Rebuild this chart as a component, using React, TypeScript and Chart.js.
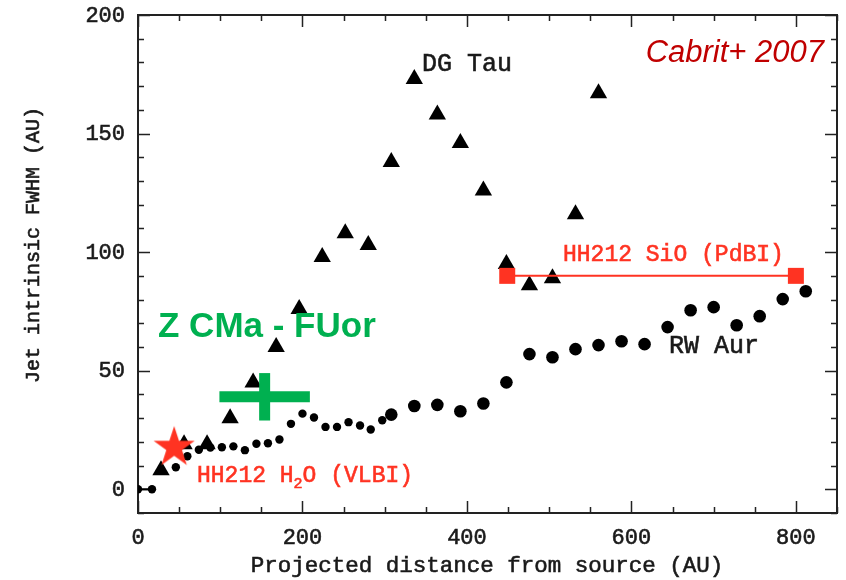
import { useEffect, useRef } from 'react';
import { Chart, registerables } from 'chart.js';

Chart.register(...registerables);

// ---- data ----
const X_TICKS = [0, 200, 400, 600, 800];
const Y_TICKS = [0, 50, 100, 150, 200];
const X_MIN = 0;
const X_MAX = 850;
const Y_MIN = -10;
const Y_MAX = 200;
const X_MINOR = 50;
const Y_MINOR = 10;

// DG Tau (triangles)
const DG_TAU_X = [28, 56, 84, 112, 140, 168, 196, 224, 252, 280, 308, 336, 364, 392, 420, 448, 476, 504, 532, 560];
const DG_TAU_Y = [8, 19, 19, 30, 45, 60, 76, 98, 108, 103, 138, 173, 158, 146, 126, 95, 86, 89, 116, 167];

// RW Aur (dots): innermost pair joined by a line, small dots, large dots
const RW_BASE_X = [0, 17];
const RW_BASE_Y = [0, 0];
const RW_SMALL_X = [46, 60, 74, 88, 102, 116, 130, 144, 158, 172, 186, 200, 214, 228, 242, 256, 270, 283, 297];
const RW_SMALL_Y = [9.3, 13.9, 16.7, 17.6, 17.7, 18.1, 16.5, 19.2, 19.4, 21, 27.6, 31.9, 30.3, 26.3, 26.3, 28.3, 26.9, 25.2, 29.1];
const RW_LARGE_X = [308, 336, 364, 392, 420, 448, 476, 504, 532, 560, 588, 616, 644, 672, 700, 728, 756, 784, 812];
const RW_LARGE_Y = [31.5, 35.1, 35.6, 32.9, 36.2, 45.1, 57, 55.7, 59.1, 60.8, 62.4, 61.2, 68.4, 75.5, 76.8, 69.2, 73, 80.2, 83.5];

// HH212 SiO (PdBI)
const SIO_X = [449, 800];
const SIO_Y = [90, 90];

// HH212 H2O (VLBI)
const H2O_X = [44];
const H2O_Y = [17.6];

// Z CMa - FUor (cross: centre and half-widths)
const ZCMA_X = 154;
const ZCMA_Y = 39;
const ZCMA_XERR = 55;
const ZCMA_YERR = 10;

const RED = '#ff3322';
const GREEN = '#00b050';
const INK = '#1a1a1a';
const MONO = '"Liberation Mono", "DejaVu Sans Mono", monospace';

const pts = (xs: number[], ys: number[]) => xs.map((x, i) => ({ x, y: ys[i] }));

function makeStar(R: number, color: string): HTMLCanvasElement {
  const c = document.createElement('canvas');
  const s = Math.ceil(R * 2 + 2);
  c.width = s;
  c.height = s;
  const g = c.getContext('2d')!;
  const cx = s / 2;
  const cy = s / 2;
  const r = R * 0.382;
  g.beginPath();
  for (let i = 0; i < 10; i++) {
    const rad = i % 2 === 0 ? R : r;
    const a = -Math.PI / 2 + (i * Math.PI) / 5;
    const px = cx + rad * Math.cos(a);
    const py = cy + rad * Math.sin(a);
    if (i === 0) g.moveTo(px, py);
    else g.lineTo(px, py);
  }
  g.closePath();
  g.fillStyle = color;
  g.fill();
  return c;
}

// fill text with a hairline stroke to mimic the heavier plot font
function heavyText(ctx: CanvasRenderingContext2D, text: string, x: number, y: number) {
  ctx.fillText(text, x, y);
  ctx.strokeStyle = ctx.fillStyle as string;
  ctx.lineWidth = 0.6;
  ctx.strokeText(text, x, y);
}

const framePlugin = {
  id: 'frame',
  beforeDatasetsDraw(chart: any) {
    const { ctx, chartArea: a, scales } = chart;
    const xs = scales.x;
    const ys = scales.y;
    ctx.save();
    ctx.strokeStyle = '#222';
    ctx.lineWidth = 1.5;
    ctx.beginPath();
    for (let v = X_MIN; v <= X_MAX; v += X_MINOR) {
      const px = Math.round(xs.getPixelForValue(v)) + 0.5;
      const len = v % 200 === 0 ? 12 : 6;
      ctx.moveTo(px, a.bottom);
      ctx.lineTo(px, a.bottom - len);
      ctx.moveTo(px, a.top);
      ctx.lineTo(px, a.top + len);
    }
    for (let v = Y_MIN; v <= Y_MAX; v += Y_MINOR) {
      const py = Math.round(ys.getPixelForValue(v)) + 0.5;
      const len = v % 50 === 0 ? 12 : 6;
      ctx.moveTo(a.left, py);
      ctx.lineTo(a.left + len, py);
      ctx.moveTo(a.right, py);
      ctx.lineTo(a.right - len, py);
    }
    ctx.stroke();
    ctx.lineWidth = 2;
    ctx.strokeRect(a.left, a.top, a.right - a.left, a.bottom - a.top);

    // tick labels from the scales
    ctx.fillStyle = INK;
    ctx.font = `22px ${MONO}`;
    ctx.textBaseline = 'alphabetic';
    ctx.textAlign = 'center';
    for (const v of X_TICKS) {
      heavyText(ctx, String(v), xs.getPixelForValue(v), a.bottom + 30.5);
    }
    ctx.textAlign = 'right';
    for (const v of Y_TICKS) {
      heavyText(ctx, String(v), a.left - 13, ys.getPixelForValue(v) + 6.5);
    }
    ctx.restore();
  },
  afterDraw(chart: any) {
    const { ctx } = chart;
    ctx.save();
    ctx.textBaseline = 'alphabetic';

    // axis titles
    ctx.fillStyle = INK;
    ctx.font = `22.5px ${MONO}`;
    ctx.textAlign = 'center';
    heavyText(ctx, 'Projected distance from source (AU)', 487, 572);
    ctx.save();
    ctx.translate(39, 245);
    ctx.rotate(-Math.PI / 2);
    ctx.font = `20px ${MONO}`;
    heavyText(ctx, 'Jet intrinsic FWHM (AU)', 0, 0);
    ctx.restore();

    // series labels
    ctx.textAlign = 'left';
    ctx.font = `25px ${MONO}`;
    heavyText(ctx, 'DG Tau', 422, 71);
    heavyText(ctx, 'RW Aur', 669, 353);

    ctx.fillStyle = RED;
    ctx.font = `23px ${MONO}`;
    heavyText(ctx, 'HH212 SiO (PdBI)', 563, 261);

    let x = 197;
    const base = 482;
    heavyText(ctx, 'HH212 H', x, base);
    x += ctx.measureText('HH212 H').width;
    ctx.font = `15px ${MONO}`;
    heavyText(ctx, '2', x, base + 6);
    x += ctx.measureText('2').width;
    ctx.font = `23px ${MONO}`;
    heavyText(ctx, 'O (VLBI)', x, base);

    ctx.fillStyle = GREEN;
    ctx.font = 'bold 35px "Liberation Sans", Arial, sans-serif';
    ctx.fillText('Z CMa - FUor', 158, 337);

    ctx.fillStyle = '#c00000';
    ctx.font = 'italic 31px "Liberation Sans", Arial, sans-serif';
    ctx.textAlign = 'right';
    ctx.fillText('Cabrit+ 2007', 824, 62);
    ctx.restore();
  },
};

export default function App() {
  const ref = useRef<HTMLCanvasElement | null>(null);

  useEffect(() => {
    document.body.style.margin = '0';
    const canvas = ref.current;
    if (!canvas) return;
    const star = makeStar(21.6, RED);

    const chart = new Chart(canvas, {
      type: 'scatter',
      data: {
        datasets: [
          {
            label: 'HH212 H2O (VLBI)',
            data: pts(H2O_X, H2O_Y),
            pointStyle: star as any,
            pointRadius: 22,
            order: 0,
          },
          {
            label: 'Z CMa - FUor x',
            data: [
              { x: ZCMA_X - ZCMA_XERR, y: ZCMA_Y },
              { x: ZCMA_X + ZCMA_XERR, y: ZCMA_Y },
            ],
            showLine: true,
            borderColor: GREEN,
            borderWidth: 11,
            borderCapStyle: 'butt',
            pointRadius: 0,
            order: 1,
          },
          {
            label: 'Z CMa - FUor y',
            data: [
              { x: ZCMA_X, y: ZCMA_Y - ZCMA_YERR },
              { x: ZCMA_X, y: ZCMA_Y + ZCMA_YERR },
            ],
            showLine: true,
            borderColor: GREEN,
            borderWidth: 11,
            borderCapStyle: 'butt',
            pointRadius: 0,
            order: 1,
          },
          {
            label: 'HH212 SiO (PdBI)',
            data: pts(SIO_X, SIO_Y),
            showLine: true,
            borderColor: RED,
            borderWidth: 2,
            pointStyle: 'rect',
            pointRadius: 11.3,
            pointBackgroundColor: RED,
            pointBorderWidth: 0,
            order: 2,
          },
          {
            label: 'DG Tau',
            data: pts(DG_TAU_X, DG_TAU_Y),
            pointStyle: 'triangle',
            pointRadius: 10,
            pointBackgroundColor: '#000',
            pointBorderWidth: 0,
            order: 3,
          },
          {
            label: 'RW Aur large',
            data: pts(RW_LARGE_X, RW_LARGE_Y),
            pointStyle: 'circle',
            pointRadius: 6.3,
            pointBackgroundColor: '#000',
            pointBorderWidth: 0,
            order: 4,
          },
          {
            label: 'RW Aur small',
            data: pts(RW_SMALL_X, RW_SMALL_Y),
            pointStyle: 'circle',
            pointRadius: 4.2,
            pointBackgroundColor: '#000',
            pointBorderWidth: 0,
            order: 4,
          },
          {
            label: 'RW Aur base',
            data: pts(RW_BASE_X, RW_BASE_Y),
            showLine: true,
            borderColor: '#000',
            borderWidth: 2,
            pointStyle: 'circle',
            pointRadius: 4.2,
            pointBackgroundColor: '#000',
            pointBorderWidth: 0,
            order: 4,
          },
        ] as any,
      },
      options: {
        animation: false,
        responsive: false,
        maintainAspectRatio: false,
        layout: { autoPadding: false, padding: { top: 15, right: 9, left: 0, bottom: 0 } },
        plugins: {
          legend: { display: false },
          tooltip: { enabled: false },
        },
        scales: {
          x: {
            type: 'linear',
            min: X_MIN,
            max: X_MAX,
            grid: { display: false, drawTicks: false },
            border: { display: false },
            ticks: { display: false },
            afterFit: (s: any) => {
              s.height = 67;
            },
          },
          y: {
            type: 'linear',
            min: Y_MIN,
            max: Y_MAX,
            grid: { display: false, drawTicks: false },
            border: { display: false },
            ticks: { display: false },
            afterFit: (s: any) => {
              s.width = 138;
            },
          },
        },
      } as any,
      plugins: [framePlugin],
    });
    return () => chart.destroy();
  }, []);

  return (
    <div style={{ position: 'absolute', left: 0, top: 0, width: 846, height: 580, background: '#fff' }}>
      <canvas ref={ref} width={846} height={580} style={{ display: 'block', width: 846, height: 580 }} />
    </div>
  );
}
